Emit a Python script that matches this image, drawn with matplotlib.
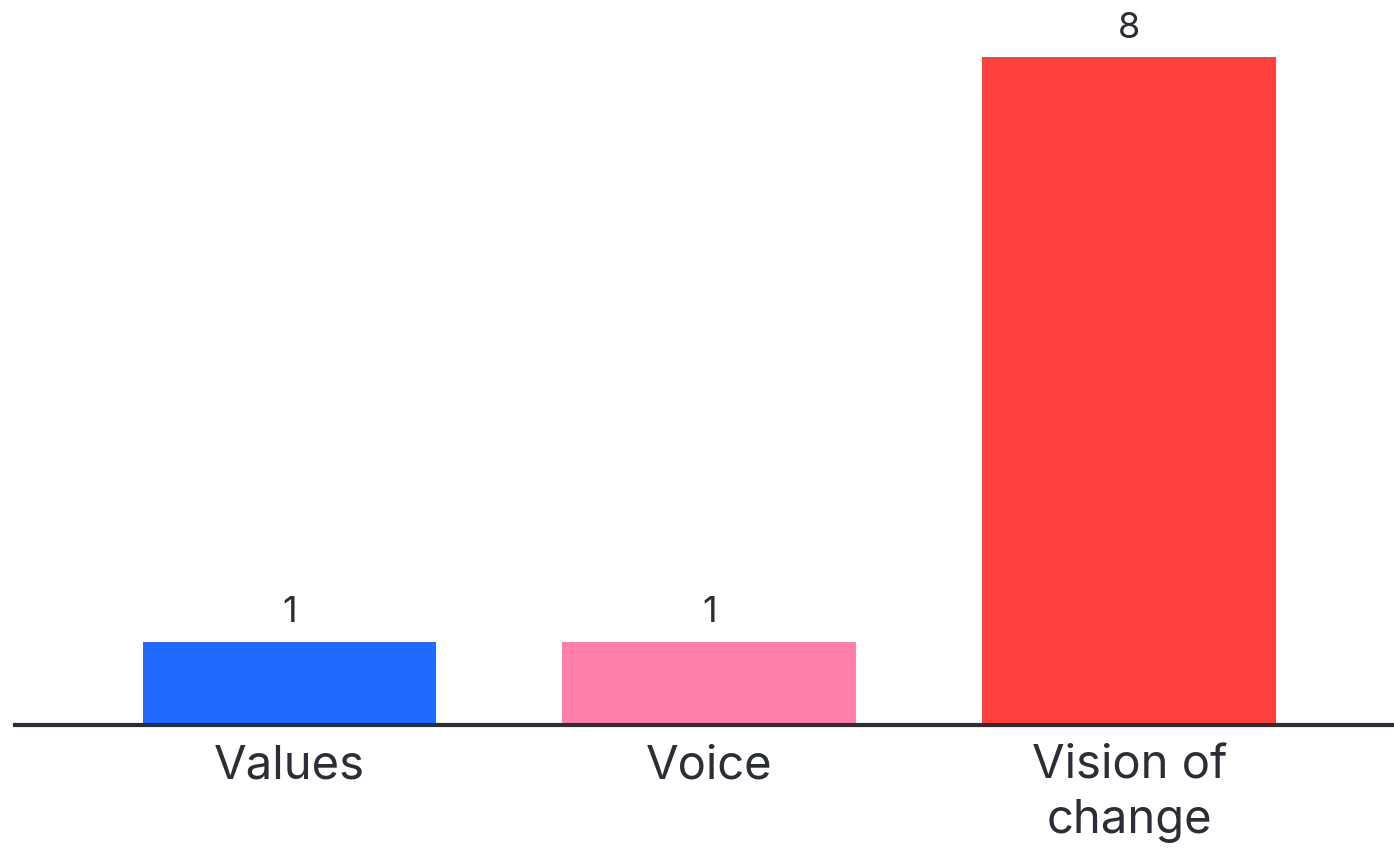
import matplotlib
matplotlib.use("Agg")
import matplotlib.pyplot as plt

# data
categories = ["Values", "Voice", "Vision of\nchange"]
counts = [1, 1, 8]
colors = ["#1F6BFF", "#FF7EAA", "#FF403D"]

TEXT = "#2B2E36"
plt.rcParams['font.family'] = ['Inter', 'DejaVu Sans']

fig = plt.figure(figsize=(13.94, 8.56), dpi=100)
W, H = 1394, 856
ax = fig.add_axes([15 / W, 131 / H, 1 - 15 / W, 725 / H])

x = list(range(len(categories)))
bars = ax.bar(x, counts, width=0.7, color=colors)

for b, v in zip(bars, counts):
    ax.annotate(str(v), (b.get_x() + b.get_width() / 2, v), xytext=(0, 9),
                textcoords="offset points", ha="center", va="bottom",
                fontsize=26, color=TEXT)

ax.set_xlim(-0.6536, 2.63)
ax.set_ylim(0, 8 * 725 / 668)
ax.set_xticks(x)
ax.set_xticklabels(categories, fontsize=34, color=TEXT, linespacing=1.3)
ax.tick_params(axis="x", length=0, pad=14)
ax.set_yticks([])
for s in ["top", "right", "left"]:
    ax.spines[s].set_visible(False)
ax.spines["bottom"].set_color(TEXT)
ax.spines["bottom"].set_linewidth(3)

fig.savefig("out.png", dpi=100)
